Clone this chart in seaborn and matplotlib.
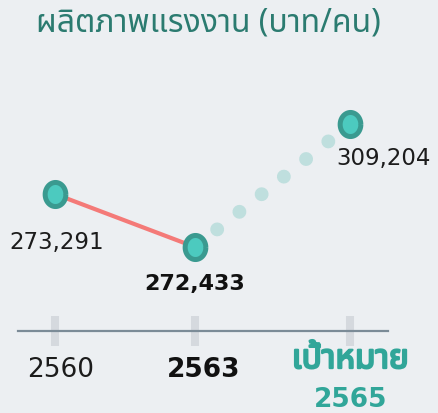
import numpy as np
import matplotlib
matplotlib.use("Agg")
import matplotlib.pyplot as plt
import matplotlib.patheffects as pe
import seaborn as sns
import pandas as pd

# ---- data ----
years = ["2560", "2563", "2565"]
tick_labels = ["2560", "2563", "เป้าหมาย\n2565"]
values = [273291, 272433, 309204]
value_labels = ["273,291", "272,433", "309,204"]
title = "ผลิตภาพแรงงาน (บาท/คน)"

sns.set_theme(style="white")
plt.rcParams["font.family"] = ["DejaVu Sans"]
fam = ["Noto Sans Thai", "DejaVu Sans"]

BG = "#eceff2"
TEAL_DARK = "#3a9a90"
TEAL_LIGHT = "#4ccabf"
DOT = "#bfdfde"
RED = "#f47a78"
TITLE_C = "#2b7b70"
TARGET_C = "#31a699"

srt = sorted(values)
levels = [84, 137, 207]

def fwd(v):
    v = np.asarray(v, dtype=float)
    out = np.interp(v, srt, levels)
    s0 = (levels[1] - levels[0]) / (srt[1] - srt[0])
    s1 = (levels[2] - levels[1]) / (srt[2] - srt[1])
    out = np.where(v < srt[0], levels[0] + (v - srt[0]) * s0, out)
    out = np.where(v > srt[2], levels[2] + (v - srt[2]) * s1, out)
    return out

def inv(y):
    y = np.asarray(y, dtype=float)
    out = np.interp(y, levels, srt)
    s0 = (srt[1] - srt[0]) / (levels[1] - levels[0])
    s1 = (srt[2] - srt[1]) / (levels[2] - levels[1])
    out = np.where(y < levels[0], srt[0] + (y - levels[0]) * s0, out)
    out = np.where(y > levels[2], srt[2] + (y - levels[2]) * s1, out)
    return out

W, H = 438, 414
fig = plt.figure(figsize=(W / 100, H / 100), dpi=100, facecolor=BG)
ax = fig.add_axes([18 / W, 82 / H, 370 / W, 272 / H])
ax.set_facecolor(BG)

xpos = [0, 1, 2.11]
df = pd.DataFrame({"x": xpos, "value": values, "year": years})

ax.set_yscale("function", functions=(fwd, inv))
ax.set_xlim(-0.264, 2.379)
ax.set_ylim(inv(0), inv(272))

sns.lineplot(data=df.iloc[:2], x="x", y="value", color=RED, lw=3, ax=ax,
             solid_capstyle="round", zorder=2)
ax.plot(df["x"].iloc[1:], df["value"].iloc[1:], color=DOT, lw=10,
        linestyle=(0, (0.001, 2.04)), dash_capstyle="round", zorder=1)

th = np.linspace(0, 2 * np.pi, 64)
ell = np.c_[0.86 * np.cos(th), np.sin(th)]
sns.scatterplot(data=df, x="x", y="value", marker=ell, s=300, color=TEAL_LIGHT,
                edgecolor=TEAL_DARK, linewidth=3.6, ax=ax, zorder=5, legend=False)

ax.annotate(value_labels[0], (xpos[0], values[0]), xytext=(1, -34), textcoords="offset points",
            ha="center", va="center", fontsize=16.5, color="#1c1c1c")
ax.annotate(value_labels[1], (xpos[1], values[1]), xytext=(0, -26), textcoords="offset points",
            ha="center", va="center", fontsize=16, color="#111111", fontweight="bold")
ax.annotate(value_labels[2], (xpos[2], values[2]), xytext=(-10, -24), textcoords="offset points",
            ha="left", va="center", fontsize=16.5, color="#1c1c1c")

for s in ["top", "right", "left"]:
    ax.spines[s].set_visible(False)
ax.spines["bottom"].set_color("#7b8b97")
ax.spines["bottom"].set_linewidth(1.6)
ax.set_yticks([])
ax.set_xticks(xpos)
ax.set_xticklabels([])
ax.tick_params(axis="x", bottom=True, direction="inout", length=22, width=5.8,
               color="#d5d9de", pad=0)
ax.set_xlabel("")
ax.set_ylabel("")

trans = ax.get_xaxis_transform()
ax.text(xpos[0] + 0.04, -0.14, tick_labels[0], transform=trans, ha="center", va="center",
        fontsize=19, color="#1c1c1c")
ax.text(xpos[1] + 0.06, -0.14, tick_labels[1], transform=trans, ha="center", va="center",
        fontsize=19, color="#111111", fontweight="bold")
tl_top, tl_bot = tick_labels[2].split("\n")
ax.text(xpos[2], -0.105, tl_top, transform=trans, ha="center", va="center",
        fontsize=24, color=TARGET_C, family=fam,
        path_effects=[pe.withStroke(linewidth=1.6, foreground=TARGET_C)])
ax.text(xpos[2], -0.25, tl_bot, transform=trans, ha="center", va="center",
        fontsize=19, color=TARGET_C, fontweight="bold")

fig.text(208 / W, 1 - 23 / H, title, ha="center", va="center", fontsize=23,
         color=TITLE_C, family=fam)

fig.savefig("out.png", dpi=100, facecolor=BG)
